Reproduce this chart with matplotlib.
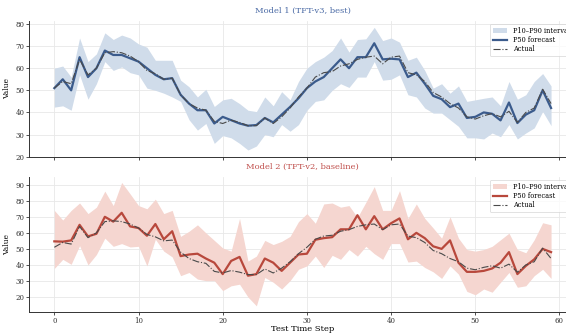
import numpy as np
import matplotlib
matplotlib.use("Agg")
import matplotlib.pyplot as plt

# ------------------------------------------------------------------#
# data
steps = np.arange(60)

actual = [51, 54, 53, 64, 57, 60, 67, 67.5, 67, 65.5,
          63, 59, 57.5, 55, 55.5, 48, 44, 42, 41, 36,
          35, 36.5, 35.5, 34, 34, 37.5, 35, 38, 42, 47,
          51, 56, 58, 58.5, 61, 62, 64, 65, 65.5, 62,
          65, 65.5, 58, 57, 54, 49, 47, 44, 42, 38,
          37, 38.5, 39.5, 38, 40.5, 35.5, 40, 42, 50.5, 44]

# Model 1 (TFT-v3, best)
m1_p50 = [51, 55, 50, 65, 56, 60, 68, 66, 66, 64.5,
          63, 60, 57, 55, 55.5, 48, 44, 41, 41, 35,
          38, 36.5, 35, 34, 34.3, 37.5, 35.5, 39, 42.5, 46.4,
          51, 54, 56, 60, 64, 60, 65, 65, 71.3, 64,
          64.3, 64, 56, 58, 53, 47.5, 46, 42.4, 44, 37.5,
          38, 40, 39.4, 36.4, 44.5, 35.2, 39, 41, 50, 42]
m1_p10 = [42.4, 43, 41, 57, 46, 53, 63, 59, 60.6, 58,
          57, 51, 50, 48.7, 47, 45, 36.7, 32, 35, 26,
          29.5, 28.5, 26, 23, 24.8, 30, 29, 34.5, 31.5, 34.5,
          41, 45, 45.7, 50, 53, 51.3, 56, 56, 63, 54.6,
          55, 57, 48, 47, 42, 39.7, 39.7, 36.7, 33.7, 28.5,
          28.5, 28, 30.7, 29, 34.5, 28, 30.7, 33, 40.4, 34]
m1_p90 = [60, 61, 56, 73.7, 63, 66.5, 76, 73, 75, 73.7,
          71, 69.5, 63.6, 63.6, 63.6, 54.6, 51.6, 47, 50.5, 42.7,
          45.7, 46.4, 44, 41, 40.4, 47, 43, 49.4, 45.7, 54,
          60, 63, 65, 68, 73.7, 67.3, 73, 73.3, 78.5, 72.5,
          73.7, 71.8, 63.6, 65, 59, 51, 53, 48.7, 52, 45,
          45.7, 46.4, 47, 43, 54, 46, 48, 54, 57.6, 52]

# Model 2 (TFT-v2, baseline)
m2_p50 = [54.7, 54.5, 55.3, 65, 57.8, 59.4, 70, 67, 72.5, 64,
          63, 58.2, 65.5, 56, 61, 45.5, 46.5, 47, 44, 41.4,
          34.3, 42.5, 45, 33.3, 34.3, 44, 41.4, 36.3, 41.4, 46.5,
          47, 55.7, 56.7, 57.3, 62.2, 62.2, 71, 62.2, 70.4, 62.2,
          66, 69, 56, 60, 56.7, 51.6, 50, 55.3, 41.4, 35.7,
          35.7, 36.3, 37.8, 41.4, 48, 34.3, 39.4, 43.5, 50, 48]
m2_p10 = [37.8, 43.5, 40.4, 52, 40, 46.5, 56.7, 51.6, 53.3, 51.2,
          51.6, 39.4, 56, 48.6, 45, 33.3, 35.3, 31.2, 30.2, 30.2,
          24, 27, 28, 20, 14.5, 32.2, 29.2, 25, 30.2, 37.3,
          39.4, 45.5, 38.4, 46, 43.5, 49.6, 45.5, 51.6, 47, 43.5,
          53.3, 53.3, 41.8, 42.4, 38.4, 35.7, 31.6, 39.4, 34.3, 23.5,
          21.4, 25, 23, 29.2, 35.3, 26.1, 27, 33.3, 37.3, 31.6]
m2_p90 = [74, 68, 74, 78.6, 72, 76, 86, 77, 91.4, 84.3,
          77, 75, 81, 72, 74, 57.8, 61, 65, 60, 55.3,
          50.6, 48.6, 69, 42.4, 45.5, 55.3, 52.7, 54.7, 57.8, 67,
          72, 66, 78, 78.6, 76, 77, 69.6, 79, 88.8, 74,
          74, 86.3, 69, 78, 69, 63, 56.7, 70, 56.7, 49.6,
          48.6, 49.6, 51.6, 55.7, 59.8, 49.6, 47.6, 55.7, 66.3, 65]

panels = [
    ("Model 1 (TFT-v3, best)", m1_p10, m1_p50, m1_p90,
     "#d0dcea", "#3b5b8c", "#4a6aa5", (20, 81.5), [20, 30, 40, 50, 60, 70, 80]),
    ("Model 2 (TFT-v2, baseline)", m2_p10, m2_p50, m2_p90,
     "#f5d6d0", "#b8483c", "#c0504d", (10.7, 95), [20, 30, 40, 50, 60, 70, 80, 90]),
]

plt.rcParams["font.family"] = ["DejaVu Serif"]

fig = plt.figure(figsize=(5.66, 3.34), dpi=100)
positions = [[0.0521, 0.531, 0.9654, 0.407], [0.0521, 0.066, 0.9654, 0.405]]

for k, (title, lo, mid, hi, band_c, line_c, title_c, ylim, yticks) in enumerate(panels):
    ax = fig.add_axes(positions[k])
    ax.fill_between(steps, lo, hi, color=band_c, lw=0, label="P10–P90 interval")
    ax.plot(steps, mid, color=line_c, lw=1.6, label="P50 forecast")
    ax.plot(steps, actual, color="#4a4a4a", lw=0.8, ls="-.", label="Actual")

    ax.set_xlim(-2.95, 61.95)
    ax.set_ylim(*ylim)
    ax.set_xticks(range(0, 61, 10))
    ax.set_yticks(yticks)
    ax.grid(True, color="#e8e8e8", lw=0.6)
    ax.set_axisbelow(True)
    for s in ("top", "right"):
        ax.spines[s].set_visible(False)
    for s in ("left", "bottom"):
        ax.spines[s].set_color("#333333")
        ax.spines[s].set_linewidth(0.7)
    ax.tick_params(labelsize=5, length=2, width=0.6, color="#333333",
                   labelcolor="#333333", pad=1.5)
    ax.set_ylabel("Value", fontsize=5.5, labelpad=3)
    ax.set_title(title, fontsize=6, color=title_c, pad=6)
    if k == 0:
        ax.tick_params(labelbottom=False)
    else:
        ax.set_xlabel("Test Time Step", fontsize=6, labelpad=0)

    leg = ax.legend(loc="upper right", fontsize=4.8, frameon=True,
                    borderpad=0.4, handlelength=2.2, labelspacing=0.2)
    leg.get_frame().set_edgecolor("#cccccc")
    leg.get_frame().set_linewidth(0.5)

fig.savefig("out.png", dpi=100)
